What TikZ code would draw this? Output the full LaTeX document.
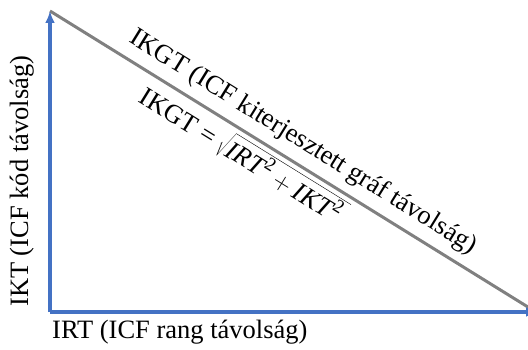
\documentclass[tikz,border=0pt]{standalone}
\usepackage{fontspec}
\setmainfont{Liberation Serif}
\usetikzlibrary{arrows.meta}
\definecolor{axisblue}{RGB}{68,114,196}
\definecolor{hypgray}{RGB}{128,128,128}
\newcommand\sqtwo{\mbox{\fontsize{19}{20}\selectfont 2}}

\begin{document}
\begin{tikzpicture}[x=1pt, y=1pt, font=\fontsize{26.5}{31}\selectfont]
  \useasboundingbox (0,0) rectangle (528,349);
  \coordinate (O) at (50,37);
  \coordinate (T) at (50,338);
  \coordinate (R) at (538,37);
  \coordinate (H) at (536,37);
  \draw[hypgray, line width=3pt] (T) -- (H)
    node[pos=0.497, sloped, above, text=black, inner sep=8pt]{IKGT (ICF kiterjesztett gráf távolság)}
    node[pos=0.42, sloped, below, text=black, inner sep=4pt]{IKGT = $\sqrt{\rule[-4pt]{0pt}{25pt}\textit{IRT}^{\sqtwo}+\textit{IKT}^{\sqtwo}\,}$};
  \draw[axisblue, line width=3.4pt, -{Latex[length=12pt, width=10pt]}] (O) -- (T);
  \draw[axisblue, line width=3.4pt, -{Latex[length=12pt, width=10pt]}] (O) -- (R);
  \node[rotate=90, anchor=base west, inner sep=0pt] (ikt) at (28,42) {IKT (ICF kód távolság)};
  \node[anchor=base west, inner sep=0pt] (irt) at (52,11) {IRT (ICF rang távolság)};
\end{tikzpicture}
\end{document}
